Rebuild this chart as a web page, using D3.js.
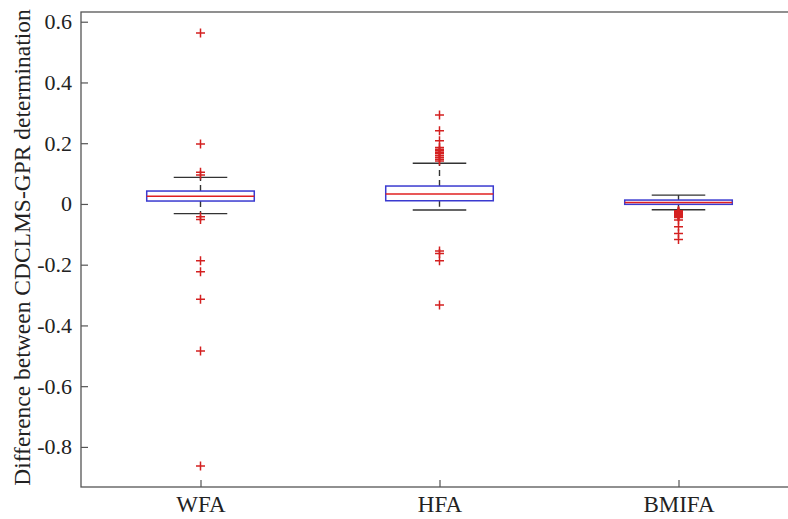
<!DOCTYPE html>
<html>
<head>
<meta charset="utf-8">
<script src="https://cdn.jsdelivr.net/npm/d3@7"></script>
<style>
  body { margin: 0; background: #fff; }
  text { font-family: "Liberation Serif", "DejaVu Serif", serif; fill: #222; }
</style>
</head>
<body>
<script>
// box plot of CDCLMS-GPR differences, MATLAB style

var categories = ["WFA", "HFA", "BMIFA"];
var q1 = [0.0096, 0.0105, -0.0013];
var medians = [0.025, 0.0326, 0.005];
var q3 = [0.0425, 0.059, 0.0128];
var whiskerLow = [-0.032, -0.020, -0.019];
var whiskerHigh = [0.0876, 0.134, 0.029];

var outliersWFA = [0.563, 0.197, 0.104, 0.095, -0.042, -0.051, -0.187, -0.223, -0.314, -0.484, -0.863];
var outliersHFA = [0.293, 0.241, 0.208, 0.186, 0.180, 0.175, 0.170, 0.165, 0.159, 0.153, 0.147, 0.141,
                   -0.155, -0.163, -0.187, -0.333];
var outliersBMIFA = [-0.022, -0.024, -0.025, -0.027, -0.028, -0.030, -0.031, -0.033, -0.034, -0.036,
                     -0.037, -0.039, -0.041, -0.045, -0.053, -0.075, -0.097, -0.117];
var outliers = [outliersWFA, outliersHFA, outliersBMIFA];

var yTicks = [-0.8, -0.6, -0.4, -0.2, 0, 0.2, 0.4, 0.6];

var width = 788, height = 519;
var plotLeft = 81, plotTop = 12, plotBottom = 487, plotRight = 798;

var svg = d3.select("body").append("svg")
    .attr("width", width)
    .attr("height", height);

var x = d3.scaleLinear().domain([0.5, 3.5]).range([plotLeft, plotRight]);
var y = d3.scaleLinear().domain([-0.932, 0.632]).range([plotBottom, plotTop]);

//frame
svg.append("rect")
    .attr("x", plotLeft).attr("y", plotTop)
    .attr("width", plotRight - plotLeft).attr("height", plotBottom - plotTop)
    .attr("fill", "none")
    .attr("stroke", "#555")
    .attr("stroke-width", 1.3);

//y axis, ticks inward
var yAxis = svg.append("g")
    .attr("transform", "translate(" + plotLeft + ",0)")
    .call(d3.axisLeft(y)
        .tickValues(yTicks)
        .tickSizeInner(-7)
        .tickSizeOuter(0)
        .tickPadding(9)
        .tickFormat(function(d) { return d === 0 ? "0" : d.toFixed(1); }));
yAxis.select(".domain").remove();
yAxis.selectAll(".tick line").attr("stroke", "#555").attr("stroke-width", 1.2);
yAxis.selectAll(".tick text")
    .style("font-family", "Liberation Serif")
    .style("font-size", "22px")
    .attr("fill", "#222");

//x axis, ticks inward
var xAxis = svg.append("g")
    .attr("transform", "translate(0," + plotBottom + ")")
    .call(d3.axisBottom(x)
        .tickValues([1, 2, 3])
        .tickSizeInner(-7)
        .tickSizeOuter(0)
        .tickPadding(9)
        .tickFormat(function(d) { return categories[d - 1]; }));
xAxis.select(".domain").remove();
xAxis.selectAll(".tick line").attr("stroke", "#555").attr("stroke-width", 1.2);
xAxis.selectAll(".tick text")
    .style("font-family", "Liberation Serif")
    .style("font-size", "23px")
    .attr("fill", "#222");

//y label
svg.append("text")
    .attr("transform", "translate(30," + ((plotTop + plotBottom) / 2 - 2) + ") rotate(-90)")
    .attr("text-anchor", "middle")
    .style("font-family", "Liberation Serif")
    .style("font-size", "23.5px")
    .text("Difference between CDCLMS-GPR determination");

var boxHalf = 0.225, capHalf = 0.112;

var groups = svg.selectAll(".box")
    .data(categories)
    .enter()
    .append("g")
    .attr("class", "box");

//whiskers (dashed)
groups.append("line")
    .attr("x1", function(d, i) { return x(i + 1); })
    .attr("x2", function(d, i) { return x(i + 1); })
    .attr("y1", function(d, i) { return y(q3[i]); })
    .attr("y2", function(d, i) { return y(whiskerHigh[i]); })
    .attr("stroke", "#333").attr("stroke-width", 1.4)
    .attr("stroke-dasharray", "6,4");
groups.append("line")
    .attr("x1", function(d, i) { return x(i + 1); })
    .attr("x2", function(d, i) { return x(i + 1); })
    .attr("y1", function(d, i) { return y(q1[i]); })
    .attr("y2", function(d, i) { return y(whiskerLow[i]); })
    .attr("stroke", "#333").attr("stroke-width", 1.4)
    .attr("stroke-dasharray", "6,4");

//caps
[whiskerHigh, whiskerLow].forEach(function(arr) {
    groups.append("line")
        .attr("x1", function(d, i) { return x(i + 1 - capHalf); })
        .attr("x2", function(d, i) { return x(i + 1 + capHalf); })
        .attr("y1", function(d, i) { return y(arr[i]); })
        .attr("y2", function(d, i) { return y(arr[i]); })
        .attr("stroke", "#333").attr("stroke-width", 1.4);
});

//boxes
groups.append("rect")
    .attr("x", function(d, i) { return x(i + 1 - boxHalf); })
    .attr("width", function(d, i) { return x(i + 1 + boxHalf) - x(i + 1 - boxHalf); })
    .attr("y", function(d, i) { return y(q3[i]); })
    .attr("height", function(d, i) { return y(q1[i]) - y(q3[i]); })
    .attr("fill", "none")
    .attr("stroke", "#3a3ad0").attr("stroke-width", 1.5);

//median
groups.append("line")
    .attr("x1", function(d, i) { return x(i + 1 - boxHalf); })
    .attr("x2", function(d, i) { return x(i + 1 + boxHalf); })
    .attr("y1", function(d, i) { return y(medians[i]); })
    .attr("y2", function(d, i) { return y(medians[i]); })
    .attr("stroke", "#e02020").attr("stroke-width", 1.5);

//outliers as red plus markers
var pts = [];
outliers.forEach(function(arr, i) {
    arr.forEach(function(v) { pts.push({ pos: i + 1, v: v }); });
});

svg.selectAll(".outlier")
    .data(pts)
    .enter()
    .append("path")
    .attr("class", "outlier")
    .attr("transform", function(d) { return "translate(" + x(d.pos) + "," + y(d.v) + ")"; })
    .attr("d", "M-4.5,0H4.5M0,-4.5V4.5")
    .attr("stroke", "#d42020")
    .attr("stroke-width", 1.5)
    .attr("fill", "none");
</script>
</body>
</html>
